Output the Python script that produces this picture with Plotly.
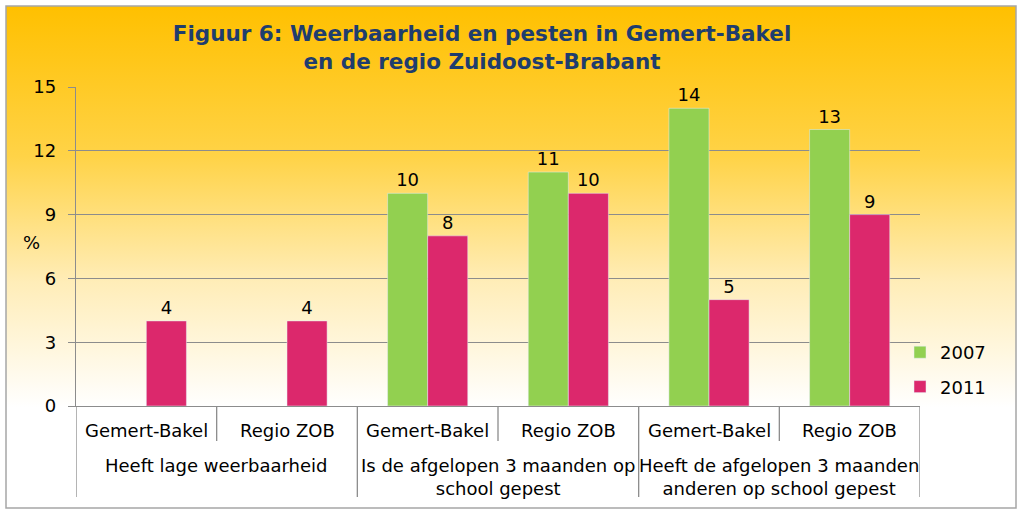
import base64
import plotly.graph_objects as go

# ---- data ----
groups = ["Heeft lage weerbaarheid",
          "Is de afgelopen 3 maanden op<br>school gepest",
          "Heeft de afgelopen 3 maanden<br>anderen op school gepest"]
subcats = ["Gemert-Bakel", "Regio ZOB", "Gemert-Bakel", "Regio ZOB", "Gemert-Bakel", "Regio ZOB"]
series_names = ["2007", "2011"]
values_2007 = [None, None, 10, 11, 14, 13]
values_2011 = [4, 4, 8, 10, 5, 9]
y_ticks = [0, 3, 6, 9, 12, 15]
title_text = "Figuur 6: Weerbaarheid en pesten in Gemert-Bakel<br>en de regio Zuidoost-Brabant"

# ---- layout constants ----
W, H = 1024, 515
L, R, T, B = 76, 104, 87, 109
PW, PH = W - L - R, H - T - B
FONT = "DejaVu Sans"
FS = 18
GREEN = "#92D050"
PINK = "#DC286C"
GRAY = "#8C8C8C"

xs = list(range(len(subcats)))

fig = go.Figure()
fig.add_bar(x=xs, y=values_2007, name=series_names[0], marker_color=GREEN,
            legendgroup="a",
            text=[("" if v is None else str(v)) for v in values_2007],
            textposition="outside", textfont=dict(family=FONT, size=FS, color="#000"),
            cliponaxis=False)
fig.add_bar(x=xs, y=values_2011, name=series_names[1], marker_color=PINK,
            legendgroup="b",
            text=[str(v) for v in values_2011],
            textposition="outside", textfont=dict(family=FONT, size=FS, color="#000"),
            cliponaxis=False)

# gradient background as svg image
bx0, by0, bx1, by1 = 6, 6, 1016, 508
svg = f'''<svg xmlns="http://www.w3.org/2000/svg" width="{bx1-bx0}" height="{by1-by0}" preserveAspectRatio="none" viewBox="0 0 {bx1-bx0} {by1-by0}">
<defs><linearGradient id="g" x1="0" y1="0" x2="0" y2="1">
<stop offset="0" stop-color="#FFC000"/>
<stop offset="0.3" stop-color="#FFD347"/>
<stop offset="0.55" stop-color="#FFEDB8"/>
<stop offset="0.8" stop-color="#FFFFFF"/>
<stop offset="1" stop-color="#FFFFFF"/>
</linearGradient></defs>
<rect x="0" y="0" width="{bx1-bx0}" height="{by1-by0}" fill="url(#g)"/>
</svg>'''
src = "data:image/svg+xml;base64," + base64.b64encode(svg.encode()).decode()

def px2paper_x(px):
    return (px - L) / PW

def px2paper_y(py):
    return (H - B - py) / PH

fig.add_layout_image(dict(source=src, xref="paper", yref="paper",
                          x=px2paper_x(bx0), y=px2paper_y(by0),
                          sizex=(bx1 - bx0) / PW, sizey=(by1 - by0) / PH,
                          xanchor="left", yanchor="top", sizing="stretch", layer="below"))

shapes = []
# border
shapes.append(dict(type="rect", xref="paper", yref="paper",
                   x0=px2paper_x(bx0), x1=px2paper_x(bx1), y0=px2paper_y(by0), y1=px2paper_y(by1),
                   line=dict(color="#A6A6A6", width=1.5), fillcolor="rgba(0,0,0,0)", layer="below"))
# separators
short_y = px2paper_y(441)
long_y = px2paper_y(497)
for i in range(len(subcats) + 1):
    xv = i - 0.5
    y1 = long_y if i % 2 == 0 else short_y
    shapes.append(dict(type="line", xref="x", yref="paper", x0=xv, x1=xv, y0=0, y1=y1,
                       line=dict(color=GRAY, width=1.3)))
fig.update_layout(shapes=shapes)

annotations = []
for i, s in enumerate(subcats):
    annotations.append(dict(x=i, y=px2paper_y(430), xref="x", yref="paper", text=s,
                            showarrow=False, xanchor="center", yanchor="middle",
                            font=dict(family=FONT, size=FS, color="#000")))
for g, name in enumerate(groups):
    annotations.append(dict(x=2 * g + 0.5, y=px2paper_y(453), xref="x", yref="paper", text=name,
                            showarrow=False, xanchor="center", yanchor="top",
                            font=dict(family=FONT, size=FS, color="#000")))
annotations.append(dict(x=px2paper_x(31), y=px2paper_y(242), xref="paper", yref="paper", text="%",
                        showarrow=False, xanchor="center", yanchor="middle",
                        font=dict(family=FONT, size=FS, color="#000")))
fig.update_layout(annotations=annotations)

fig.update_layout(
    width=W, height=H,
    margin=dict(l=L, r=R, t=T, b=B, pad=0),
    paper_bgcolor="white",
    plot_bgcolor="rgba(0,0,0,0)",
    barmode="group", bargap=0.43, bargroupgap=0,
    title=dict(text=title_text, xref="container", yref="container",
               x=482 / W, xanchor="center", y=1 - 41 / H, yanchor="middle",
               font=dict(family=FONT, size=21.5, color="#1F3D6E", weight="bold")),
    legend=dict(x=px2paper_x(900), y=px2paper_y(334), xanchor="left", yanchor="top",
                font=dict(family=FONT, size=FS, color="#000"), bgcolor="rgba(0,0,0,0)",
                itemwidth=30, traceorder="grouped", tracegroupgap=8),
    showlegend=True,
    font=dict(family=FONT, size=FS, color="#000"),
)
fig.update_xaxes(range=[-0.5, len(subcats) - 0.5], showticklabels=False, ticks="",
                 showgrid=False, showline=True, linecolor=GRAY, linewidth=1.3, zeroline=False)
fig.update_yaxes(range=[0, 15], tickvals=y_ticks, ticks="outside", ticklen=7, tickcolor=GRAY,
                 tickwidth=1.3, showline=True, linecolor=GRAY, linewidth=1.3,
                 gridcolor=GRAY, gridwidth=1.3, zeroline=False, ticklabelstandoff=8,
                 tickfont=dict(family=FONT, size=FS, color="#000"))

fig.write_html("out.html", config={"displayModeBar": False},
               post_script="document.body.style.margin='0';document.body.style.padding='0';")
